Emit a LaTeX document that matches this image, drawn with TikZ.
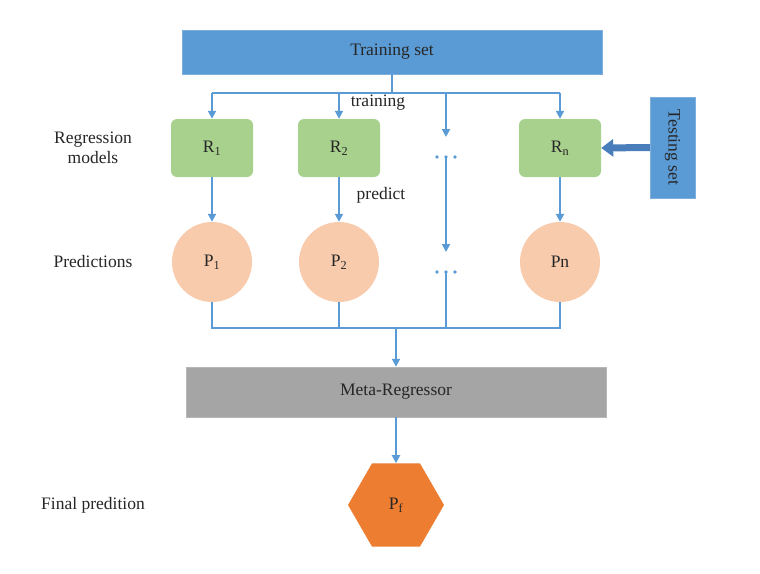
\documentclass[tikz,border=0pt]{standalone}
\usepackage{fontspec}
\setmainfont{Liberation Serif}
\usetikzlibrary{arrows.meta,shapes.geometric}
\definecolor{setblue}{HTML}{5B9BD5}
\definecolor{lineblue}{HTML}{5B9BD5}
\definecolor{darkarrow}{HTML}{4A7EBB}
\definecolor{rgreen}{HTML}{A9D18E}
\definecolor{ppeach}{HTML}{F8CBAD}
\definecolor{mgray}{HTML}{A5A5A5}
\definecolor{forange}{HTML}{ED7D31}
\definecolor{txt}{HTML}{262626}
\begin{document}
\begin{tikzpicture}[x=1pt,y=-1pt,
  every node/.style={font=\fontsize{17.5}{20}\selectfont, text=txt},
  setbox/.style={fill=setblue, draw=setblue!80!white, inner sep=0pt},
  rbox/.style={fill=rgreen, rounded corners=6pt, minimum width=82pt, minimum height=58pt, inner sep=0pt},
  pcirc/.style={circle, fill=ppeach, minimum size=80pt, inner sep=0pt},
  conn/.style={draw=lineblue, line width=1.9pt},
  arr/.style={conn, -{Triangle[length=8pt,width=8pt]}},
  dotc/.style={circle, fill=lineblue, inner sep=0pt, minimum size=3.6pt},
  lbl/.style={align=center}
]
\useasboundingbox (0,0) rectangle (760,573);

% main boxes
\node[setbox, minimum width=420pt, minimum height=44pt] (train) at (392,52) {Training set};
\node[rbox] (R1) at (212,148) {R\textsubscript{1}};
\node[rbox] (R2) at (339,148) {R\textsubscript{2}};
\node[rbox] (Rn) at (560,148) {R\textsubscript{n}};
\node[setbox, minimum width=101pt, minimum height=45pt, rotate=-90] (test) at (672.5,147.5) {Testing set};
\node[pcirc] (P1) at (212,262) {P\textsubscript{1}};
\node[pcirc] (P2) at (339,262) {P\textsubscript{2}};
\node[pcirc] (Pn) at (560,262) {Pn};
\node[fill=mgray, draw=mgray!80!white, minimum width=420pt, minimum height=50pt, inner sep=0pt] (meta) at (396,392) {Meta-Regressor};
\node[regular polygon, regular polygon sides=6, fill=forange, minimum size=96pt, inner sep=0pt] (Pf) at (396,505) {P\textsubscript{f}};

% left labels
\node[lbl] (lreg) at (93,148) {Regression\\[0pt]models};
\node (lpred) at (93,262) {Predictions};
\node (lfin) at (93,505) {Final predition};

% edge labels
\node (ltrain) at (378,103) {training};
\node (lpredict) at (381,195) {predict};

% training distribution
\coordinate (split) at (392,93);
\coordinate (mtop) at (446,93);
\draw[conn] (train.south) -- (split);
\draw[conn] (R1.north |- split) -- (Rn.north |- split);
\draw[arr] (R1.north |- split) -- (R1.north);
\draw[arr] (R2.north |- split) -- (R2.north);
\draw[arr] (Rn.north |- split) -- (Rn.north);
\coordinate (m1) at (446,137);
\draw[arr] (mtop) -- (m1);

% middle dots
\node[dotc] (d1a) at (437,157) {};
\node[dotc] (d1b) at (446,157) {};
\node[dotc] (d1c) at (455,157) {};
\node[dotc] (d2a) at (437,272) {};
\node[dotc] (d2b) at (446,272) {};
\node[dotc] (d2c) at (455,272) {};
\coordinate (m2) at (446,252);
\draw[arr] (d1b.center) -- (m2);

% predictions
\draw[arr] (R1.south) -- (P1.north);
\draw[arr] (R2.south) -- (P2.north);
\draw[arr] (Rn.south) -- (Pn.north);

% testing set arrow
\draw[draw=darkarrow, line width=7pt, -{Triangle[length=12pt,width=17pt]}] (test.south) -- (Rn.east);

% merge
\coordinate (merge) at (396,328);
\draw[conn] (P1.south) -- (P1.south |- merge) -- (Pn.south |- merge) -- (Pn.south);
\draw[conn] (P2.south) -- (P2.south |- merge);
\draw[conn] (d2b.center) -- (d2b.center |- merge);
\draw[arr] (merge) -- (meta.north);
\draw[arr] (meta.south) -- (Pf.north);
\end{tikzpicture}
\end{document}
